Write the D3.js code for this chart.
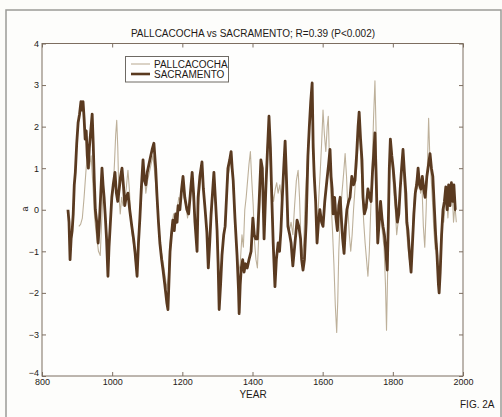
<!DOCTYPE html>
<html>
<head>
<meta charset="utf-8">
<script src="https://cdn.jsdelivr.net/npm/d3@7"></script>
<style>
  html, body { margin: 0; padding: 0; background: #fcfcf9; }
  svg { display: block; }
  text { font-family: "Liberation Sans", Arial, sans-serif; fill: #1e1a16; }
</style>
</head>
<body>
<svg id="chart" width="502" height="417"></svg>
<script>
// ---- Data ----
const title = "PALLCACOCHA vs SACRAMENTO; R=0.39 (P<0.002)";
const xLabel = "YEAR";
const yLabel = "a";
const figLabel = "FIG. 2A";
const seriesNames = ["PALLCACOCHA", "SACRAMENTO"];
const xTicks = [800, 1000, 1200, 1400, 1600, 1800, 2000];
const yTicks = [-4, -3, -2, -1, 0, 1, 2, 3, 4];

const sacramento = [
 [874,0.0],[877,-0.3],[880,-1.2],[883,-0.7],[886,-0.5],[889,-0.1],[892,0.6],[895,0.9],[899,1.6],[903,2.1],
 [907,2.3],[911,2.6],[914,2.4],[917,2.6],[920,2.2],[923,1.7],[926,1.9],[929,1.3],[932,1.0],[935,1.5],
 [939,1.9],[943,2.3],[946,1.6],[949,0.7],[952,0.0],[956,-0.3],[960,-0.8],[963,-0.4],[967,0.3],[971,1.0],
 [974,0.6],[977,0.3],[980,-0.1],[984,-0.7],[988,-1.6],[991,-0.9],[995,-0.3],[999,0.3],[1003,0.6],[1008,0.9],
 [1012,0.4],[1016,0.2],[1020,0.5],[1024,0.8],[1028,1.0],[1032,0.6],[1036,0.1],[1040,0.3],[1045,0.4],[1050,0.0],
 [1056,-0.4],[1061,-0.7],[1065,-1.0],[1071,-1.6],[1075,-0.8],[1079,-0.2],[1083,0.5],[1088,1.2],[1092,0.7],[1096,0.6],
 [1100,0.9],[1105,1.1],[1110,1.3],[1114,1.45],[1119,1.6],[1124,1.0],[1128,0.3],[1132,-0.3],[1136,-0.8],[1141,-1.2],
 [1145,-1.45],[1150,-1.8],[1156,-2.25],[1159,-2.4],[1162,-1.7],[1165,-1.0],[1169,-0.6],[1173,-0.25],[1177,-0.5],[1181,-0.1],
 [1185,-0.3],[1188,0.1],[1193,0.0],[1198,0.5],[1202,0.8],[1207,0.3],[1213,0.0],[1218,-0.1],[1223,0.4],[1228,0.9],
 [1232,0.4],[1236,-0.3],[1242,-1.0],[1245,0.3],[1250,0.8],[1256,1.15],[1260,0.5],[1265,0.0],[1270,-0.55],[1274,-1.4],
 [1278,-0.8],[1282,-0.1],[1286,0.4],[1290,0.9],[1294,0.3],[1299,-0.5],[1302,-1.3],[1305,-2.4],[1309,-1.8],[1313,-1.1],
 [1318,-0.6],[1322,-0.4],[1326,0.3],[1330,1.0],[1335,1.2],[1339,1.4],[1342,1.0],[1345,0.7],[1350,-0.2],[1356,-1.1],
 [1360,-1.9],[1362,-2.5],[1365,-1.8],[1368,-1.4],[1372,-1.2],[1376,-1.5],[1380,-1.3],[1385,-1.4],[1390,-1.2],[1396,-1.0],
 [1401,-0.2],[1405,-0.6],[1409,-0.7],[1414,-0.7],[1419,0.2],[1424,1.2],[1428,1.0],[1433,-0.7],[1438,0.5],[1442,1.3],
 [1447,2.25],[1451,1.5],[1455,0.3],[1459,-0.8],[1464,-1.85],[1468,-1.2],[1473,-0.8],[1477,-1.0],[1481,-0.5],[1485,0.3],
 [1489,1.0],[1493,1.65],[1497,0.7],[1501,-0.4],[1506,-0.6],[1510,-0.8],[1515,-1.35],[1520,-0.9],[1527,-0.25],[1532,-0.4],
 [1537,-0.7],[1540,-1.2],[1544,-1.45],[1548,-1.2],[1553,-0.3],[1558,1.3],[1562,2.0],[1566,2.6],[1570,3.05],[1573,1.5],
 [1576,0.8],[1580,0.2],[1584,-0.8],[1588,-0.3],[1592,0.0],[1597,-0.3],[1601,-0.4],[1606,0.2],[1612,0.7],[1617,1.1],
 [1621,1.45],[1624,0.8],[1627,0.5],[1630,-0.1],[1634,0.3],[1638,-0.2],[1642,-0.5],[1646,0.1],[1650,0.3],[1654,-0.3],
 [1657,-0.7],[1661,-1.05],[1665,-0.4],[1669,0.0],[1674,0.2],[1678,0.3],[1683,0.8],[1688,0.6],[1692,0.7],[1697,1.35],
 [1701,2.0],[1704,2.35],[1708,1.7],[1712,1.2],[1715,0.3],[1719,-0.1],[1724,0.05],[1729,0.5],[1734,0.3],[1738,0.2],
 [1742,0.9],[1746,1.4],[1749,1.85],[1753,0.6],[1757,-0.8],[1761,-0.3],[1765,0.2],[1769,-0.2],[1772,-0.4],[1776,-0.6],
 [1780,-1.0],[1784,-1.45],[1787,-0.4],[1790,1.0],[1793,1.7],[1797,1.3],[1801,1.0],[1805,0.6],[1809,0.1],[1813,-0.3],
 [1817,-0.1],[1821,0.5],[1825,1.0],[1829,1.45],[1833,0.9],[1837,0.4],[1840,-0.3],[1843,-0.5],[1847,-1.0],[1852,-1.5],
 [1856,-0.8],[1860,-0.1],[1864,0.4],[1868,0.6],[1872,1.0],[1876,0.6],[1880,0.5],[1884,0.8],[1888,0.5],[1892,0.3],
 [1897,0.8],[1902,1.1],[1906,1.35],[1910,1.0],[1914,0.8],[1918,0.1],[1922,-0.6],[1926,-1.1],[1930,-1.8],[1932,-2.0],
 [1935,-1.5],[1939,-0.6],[1943,0.0],[1947,0.2],[1951,0.55],[1955,0.0],[1959,0.6],[1963,0.1],[1967,0.65],[1971,0.2],
 [1974,0.6],[1978,0.0],[1980,0.0]
];

const pallcacocha = [
 [905,-0.4],[910,-0.35],[915,-0.2],[920,0.3],[925,0.9],[930,1.4],[935,1.0],[940,1.3],[945,0.6],[950,-0.2],
 [955,-0.6],[961,-1.0],[966,-1.1],[970,-0.3],[974,0.5],[978,0.2],[982,-0.3],[986,-0.8],[990,-1.1],[994,-0.5],
 [998,0.2],[1003,0.5],[1007,1.2],[1010,1.8],[1013,2.15],[1016,1.5],[1019,0.4],[1023,-0.1],[1027,0.3],[1031,0.1],
 [1035,0.2],[1040,0.5],[1045,0.95],[1049,0.5],[1053,-0.2],[1057,-0.6],[1062,-0.9],[1067,-1.3],[1071,-1.1],[1076,-0.5],
 [1081,0.0],[1086,0.7],[1091,0.9],[1096,0.4],[1101,0.7],[1106,0.9],[1111,1.1],[1116,1.3],[1120,1.0],[1125,0.5],
 [1130,-0.1],[1135,-0.6],[1140,-1.0],[1146,-1.3],[1151,-1.6],[1156,-1.9],[1160,-1.6],[1165,-0.8],[1170,-0.4],[1175,-0.1],
 [1180,-0.3],[1185,0.0],[1190,0.3],[1195,0.2],[1200,0.6],[1205,0.3],[1210,0.1],[1215,-0.2],[1220,0.2],[1226,0.6],
 [1231,0.3],[1236,-0.2],[1241,-0.6],[1246,0.1],[1251,0.6],[1256,0.9],[1261,0.4],[1266,-0.1],[1271,-0.6],[1275,-1.0],
 [1280,-0.5],[1285,0.1],[1290,0.7],[1295,0.1],[1300,-0.6],[1305,-1.6],[1310,-1.4],[1315,-0.9],[1320,-0.5],[1325,0.1],
 [1330,0.8],[1335,1.0],[1340,1.2],[1345,0.5],[1350,-0.3],[1355,-0.9],[1360,-1.5],[1365,-1.3],[1370,-0.6],[1374,-0.9],
 [1378,0.0],[1382,0.3],[1386,0.7],[1390,1.1],[1394,1.4],[1398,0.7],[1402,0.1],[1406,-0.8],[1410,-1.2],[1414,-1.4],
 [1418,-0.6],[1422,0.3],[1426,0.9],[1430,0.5],[1434,-0.2],[1438,0.6],[1442,1.5],[1446,2.0],[1450,1.2],[1455,0.5],
 [1460,0.2],[1465,0.5],[1469,0.65],[1473,0.4],[1478,0.6],[1483,0.2],[1488,0.8],[1492,1.2],[1496,0.5],[1500,-0.2],
 [1505,-0.5],[1510,-0.3],[1515,-0.6],[1520,0.1],[1525,0.7],[1530,0.95],[1534,0.3],[1538,-0.7],[1542,-1.1],[1546,-0.8],
 [1550,0.2],[1555,1.0],[1560,1.8],[1565,2.3],[1569,2.5],[1573,1.8],[1577,0.9],[1581,0.2],[1585,-0.4],[1589,0.3],
 [1593,0.9],[1597,1.6],[1601,2.4],[1605,1.8],[1609,1.4],[1613,2.0],[1616,2.25],[1620,1.0],[1624,0.2],[1628,-0.5],
 [1632,-1.3],[1636,-2.3],[1640,-2.95],[1643,-2.2],[1646,-1.0],[1650,-0.2],[1655,0.4],[1660,0.9],[1664,1.35],[1668,0.8],
 [1672,0.0],[1676,-0.6],[1680,-1.0],[1684,-0.6],[1688,0.0],[1692,0.5],[1697,1.0],[1701,1.6],[1705,1.9],[1709,1.2],
 [1713,0.4],[1717,-0.3],[1721,-0.8],[1725,-1.2],[1729,-1.6],[1733,-1.0],[1737,0.0],[1741,1.0],[1745,2.2],[1749,3.1],
 [1752,2.0],[1755,0.5],[1759,-0.4],[1763,0.0],[1767,-0.3],[1771,-0.6],[1775,-0.9],[1779,-1.8],[1782,-2.9],[1785,-1.6],
 [1788,-0.3],[1791,1.0],[1795,1.4],[1799,0.9],[1803,0.4],[1807,0.0],[1811,-0.6],[1815,-0.3],[1819,0.3],[1823,0.8],
 [1827,1.2],[1831,0.8],[1835,0.1],[1839,-0.5],[1843,-0.9],[1847,-1.2],[1851,-1.3],[1855,-0.7],[1859,0.0],[1863,0.5],
 [1867,0.7],[1871,0.5],[1875,0.8],[1879,0.4],[1883,0.6],[1887,-0.4],[1891,-0.9],[1895,0.0],[1899,1.2],[1902,2.2],
 [1905,1.4],[1909,0.8],[1913,0.2],[1917,-0.5],[1921,-0.95],[1925,-0.8],[1929,-1.5],[1933,-1.6],[1937,-0.8],[1941,-0.2],
 [1945,-0.3],[1949,0.1],[1953,0.3],[1957,-0.2],[1961,0.4],[1965,0.2],[1969,0.5],[1973,-0.3],[1977,0.1],[1981,-0.3]
];

// ---- Layout ----
const plot = { left: 42, right: 463, top: 43.5, bottom: 376 };
const colors = { pall: "#bdb09a", sac: "#5a3a20", axis: "#7d6e60" };

const svg = d3.select("#chart");

// outer frame
svg.append("rect").attr("x", 6).attr("y", 10).attr("width", 495).attr("height", 420)
  .attr("fill", "#fdfdfb").attr("stroke", "#9a9a96").attr("stroke-width", 1.5);

const x = d3.scaleLinear().domain([800, 2000]).range([plot.left, plot.right]);
const y = d3.scaleLinear().domain([-4, 4]).range([plot.bottom, plot.top]);

// plot box
svg.append("rect").attr("x", plot.left).attr("y", plot.top)
  .attr("width", plot.right - plot.left).attr("height", plot.bottom - plot.top)
  .attr("fill", "#fefefd").attr("stroke", colors.axis).attr("stroke-width", 1);

svg.append("clipPath").attr("id", "clip").append("rect")
  .attr("x", plot.left).attr("y", plot.top)
  .attr("width", plot.right - plot.left).attr("height", plot.bottom - plot.top);

const line = d3.line().x(d => x(d[0])).y(d => y(d[1]));

const g = svg.append("g").attr("clip-path", "url(#clip)");
g.append("path").datum(pallcacocha).attr("d", line)
  .attr("fill", "none").attr("stroke", colors.pall).attr("stroke-width", 1.1)
  .attr("stroke-linejoin", "round");
g.append("path").datum(sacramento).attr("d", line)
  .attr("fill", "none").attr("stroke", colors.sac).attr("stroke-width", 2.8)
  .attr("stroke-linejoin", "round");

// axes (inside ticks, mirrored)
function styleAxis(sel) {
  sel.select(".domain").remove();
  sel.selectAll(".tick line").attr("stroke", colors.axis);
  sel.selectAll(".tick text").attr("font-size", "9px").attr("fill", "#1e1a16")
    .attr("font-family", "Liberation Sans, Arial, sans-serif");
}
svg.append("g").attr("transform", `translate(0,${plot.bottom})`)
  .call(d3.axisBottom(x).tickValues(xTicks).tickSize(-4).tickPadding(3).tickFormat(d3.format("d")))
  .call(styleAxis);
svg.append("g").attr("transform", `translate(0,${plot.top})`)
  .call(d3.axisTop(x).tickValues(xTicks).tickSize(-4).tickFormat(""))
  .call(styleAxis);
const yAxisG = svg.append("g").attr("transform", `translate(${plot.left},0)`)
  .call(d3.axisLeft(y).tickValues(yTicks).tickSize(-4).tickPadding(3).tickFormat(d3.format("d")))
  .call(styleAxis);
// lowest y label sits just above the "800" label, as in the reference
yAxisG.selectAll(".tick text").filter(d => d === -4).attr("dy", "-0.05em");
svg.append("g").attr("transform", `translate(${plot.right},0)`)
  .call(d3.axisRight(y).tickValues(yTicks).tickSize(-4).tickFormat(""))
  .call(styleAxis);

// texts
svg.append("text").attr("x", 253).attr("y", 36.5).attr("text-anchor", "middle")
  .attr("font-size", "10px").text(title);
svg.append("text").attr("x", 253).attr("y", 398).attr("text-anchor", "middle")
  .attr("font-size", "10px").text(xLabel);
svg.append("text").attr("transform", "translate(27.5,209) rotate(-90)").attr("text-anchor", "middle")
  .attr("font-size", "9px").text(yLabel);
svg.append("text").attr("x", 460).attr("y", 407.5).attr("font-size", "10px").text(figLabel);

// legend
const lg = svg.append("g");
lg.append("rect").attr("x", 125.5).attr("y", 56.5).attr("width", 103).attr("height", 25.5)
  .attr("fill", "#ffffff").attr("stroke", "#6e6a64").attr("stroke-width", 1);
const legendItems = [
  { name: seriesNames[0], color: colors.pall, w: 1.1, yy: 64 },
  { name: seriesNames[1], color: colors.sac, w: 2.6, yy: 74 }
];
legendItems.forEach(it => {
  lg.append("line").attr("x1", 131).attr("x2", 150).attr("y1", it.yy).attr("y2", it.yy)
    .attr("stroke", it.color).attr("stroke-width", it.w);
  lg.append("text").attr("x", 154).attr("y", it.yy + 3.6).attr("font-size", "10px").text(it.name);
});
</script>
</body>
</html>
